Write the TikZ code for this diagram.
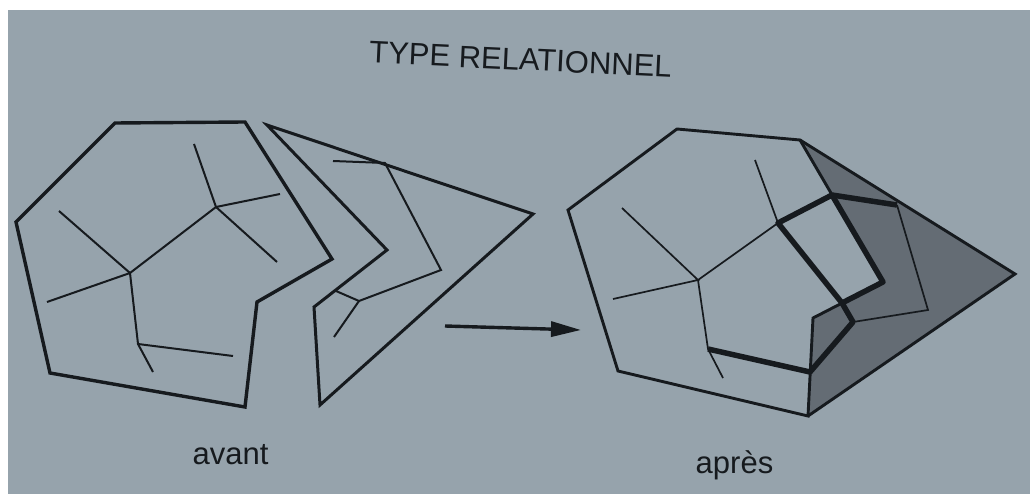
\documentclass[tikz,border=0pt]{standalone}
\usepackage{fontspec}
\setmainfont{Liberation Sans}
\usetikzlibrary{arrows.meta}
\definecolor{paper}{RGB}{150,163,172}
\definecolor{ink}{RGB}{22,26,30}
\definecolor{greyfill}{RGB}{100,108,116}
\tikzset{
  outline/.style={draw=ink, line width=3.4pt, line join=miter},
  branch/.style={draw=ink, line width=2pt},
  relation/.style={draw=ink, line width=5.5pt, line join=round},
  caption/.style={font=\fontsize{31}{36}\selectfont, text=ink, inner sep=0pt, anchor=base}
}
\begin{document}
\begin{tikzpicture}[x=1pt,y=-1pt]
    %% page and paper
    \useasboundingbox (0,0) rectangle (1030,494);
    \fill[white] (0,0) rectangle (1030,494);
    \fill[paper] (8,10) rectangle (1030,494);
    \node[caption, rotate=-2.7] (title) at (520,70) {TYPE RELATIONNEL};

    %% avant: polygon and its tree
    \draw[outline] (115,123) -- (245,122) -- (332,259) -- (257,302) -- (245,407) -- (50,373) -- (16,222) -- cycle;
    \draw[branch] (47,302) -- (130,273) -- (216,207) -- (280,194);
    \draw[branch] (194,144) -- (216,207) -- (277,262);
    \draw[branch] (59,211) -- (130,273) -- (138,344) -- (233,356);
    \draw[branch] (138,344) -- (153,372);
    %% avant: triangle and its tree
    \draw[outline, line width=3pt] (267,125) -- (533,214) -- (320,405) -- (314,307) -- (387,250) -- cycle;
    \draw[branch] (333,161) -- (385,163) -- (441,270) -- (359,301) -- (336,291);
    \draw[branch] (359,301) -- (334,337);
    \node[caption] (avant) at (230.5,464) {avant};

    %% arrow
    \coordinate (from) at (445,326);
    \coordinate (to) at (581,330);
    \draw[ink, line width=3.4pt, -{Triangle[length=30pt,width=15pt]}] (from) -- (to);

    %% apres: merged shapes
    \fill[greyfill] (800,140) -- (1015,274) -- (808,416) -- (813,318) -- (883,282) -- cycle;
    \draw[outline, line width=2.9pt] (677,129) -- (800,140) -- (883,282) -- (813,318) -- (808,416) -- (618,371) -- (568,210) -- cycle;
    \draw[outline, line width=2.9pt] (800,140) -- (1015,274) -- (808,416);
    \draw[branch, line width=1.7pt] (622,208) -- (698,280) -- (613,299);
    \draw[branch, line width=1.7pt] (698,280) -- (778,223) -- (755,160);
    \draw[branch, line width=1.7pt] (698,280) -- (708,349) -- (723,378);
    \draw[branch, line width=1.7pt] (897,205) -- (928,310) -- (853,322);
    %% the new relation
    \draw[relation] (708,349) -- (810,372) -- (853,322) -- (842,303) -- (778,223) -- (832,195) -- (897,205);
    \draw[relation] (832,195) -- (883,282) -- (842,303);
    \node[caption] (apres) at (734.5,473) {après};
\end{tikzpicture}
\end{document}
